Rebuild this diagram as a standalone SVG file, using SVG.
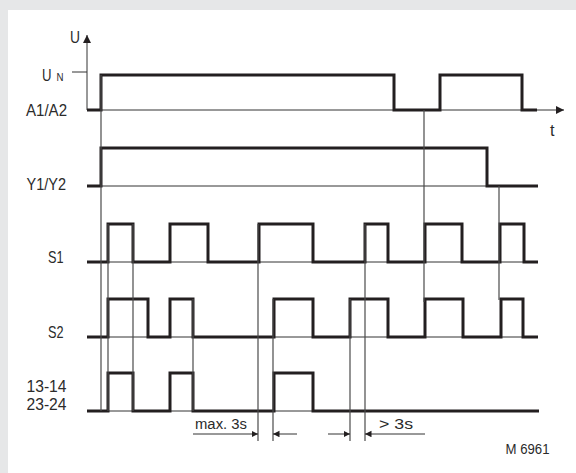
<svg xmlns="http://www.w3.org/2000/svg" width="576" height="473" viewBox="0 0 576 473">
<defs>
<style>
.txt{font-family:"Liberation Sans",Arial,sans-serif;fill:#2b2b2b;}
.lbl{font-size:17px;}
.sm{font-size:14px;}
.thick{fill:none;stroke:#231f20;stroke-width:3;stroke-linejoin:miter;stroke-linecap:butt;}
.thin{fill:none;stroke:#333;stroke-width:1;}
.vl{fill:none;stroke:#4a4a4a;stroke-width:1.2;}
.ah{fill:#231f20;}
</style>
<marker id="arrAxis" markerWidth="9" markerHeight="8" refX="8" refY="4" orient="auto" markerUnits="userSpaceOnUse">
<path d="M0,0 L8,4 L0,8 Z" class="ah"/>
</marker>
<marker id="arrDim" markerWidth="7" markerHeight="7" refX="6.5" refY="3.25" orient="auto" markerUnits="userSpaceOnUse">
<path d="M0,0 L6.5,3.25 L0,6.5 Z" class="ah"/>
</marker>
</defs>
<rect x="0" y="0" width="576" height="473" fill="#e6e7e8"/>
<rect x="8" y="10" width="568" height="463" fill="#ffffff"/>

<g id="axes">
<line x1="87" y1="110" x2="87" y2="35" class="thin" marker-end="url(#arrAxis)"/>
<line x1="87" y1="110" x2="564" y2="110" class="thin" marker-end="url(#arrAxis)"/>
<line x1="72" y1="72" x2="87" y2="72" class="thin"/>
<text class="txt lbl" x="70" y="43" textLength="10" lengthAdjust="spacingAndGlyphs">U</text>
<text class="txt lbl" x="42" y="80.5" textLength="9.5" lengthAdjust="spacingAndGlyphs">U</text>
<text class="txt" style="font-size:10px" x="56.5" y="80.5" textLength="7" lengthAdjust="spacingAndGlyphs">N</text>
<text class="txt lbl" x="550" y="136" textLength="4.5" lengthAdjust="spacingAndGlyphs">t</text>
</g>

<g id="A1A2">
<text class="txt lbl" x="26" y="115.5" textLength="41" lengthAdjust="spacingAndGlyphs">A1/A2</text>
<path class="thick" d="M87,110 H101 V75 H394 V110 H440 V75 H522 V110 H537"/>
</g>

<g id="Y1Y2">
<text class="txt lbl" x="26.5" y="190" textLength="39.5" lengthAdjust="spacingAndGlyphs">Y1/Y2</text>
<line x1="101" y1="186" x2="538" y2="186" class="thin"/>
<path class="thick" d="M87,186 H101 V148 H487 V186 H538"/>
</g>

<g id="S1">
<text class="txt lbl" x="48" y="263" textLength="15.5" lengthAdjust="spacingAndGlyphs">S1</text>
<line x1="87" y1="262" x2="538" y2="262" class="thin"/>
<path class="thick" d="M87,262 H108 V224 H133 V262 H170 V224 H208 V262 H259 V224 H313 V262 H365 V224 H388 V262 H425 V224 H462 V262 H500 V224 H524 V262 H538"/>
</g>

<g id="S2">
<text class="txt lbl" x="48" y="338" textLength="15.5" lengthAdjust="spacingAndGlyphs">S2</text>
<line x1="87" y1="337" x2="538" y2="337" class="thin"/>
<path class="thick" d="M87,337 H108 V299 H148 V337 H170 V299 H193 V337 H274 V299 H313 V337 H350 V299 H388 V337 H425 V299 H463 V337 H501 V299 H523 V337 H538"/>
</g>

<g id="K1314">
<text class="txt lbl" x="26.5" y="392" textLength="40" lengthAdjust="spacingAndGlyphs">13-14</text>
<text class="txt lbl" x="26.5" y="410" textLength="40" lengthAdjust="spacingAndGlyphs">23-24</text>
<line x1="87" y1="411" x2="539" y2="411" class="thin"/>
<path class="thick" d="M87,411 H108 V373 H133 V411 H170 V373 H193 V411 H274 V373 H313 V411 H539"/>
</g>

<g id="connectors">
<line class="vl" x1="101" y1="75" x2="101" y2="411"/>
<line class="vl" x1="108" y1="224" x2="108" y2="411"/>
<line class="vl" x1="133" y1="224" x2="133" y2="411"/>
<line class="vl" x1="193" y1="299" x2="193" y2="411"/>
<line class="vl" x1="258" y1="224" x2="258" y2="441"/>
<line class="vl" x1="273" y1="299" x2="273" y2="441"/>
<line class="vl" x1="350" y1="299" x2="350" y2="441"/>
<line class="vl" x1="365" y1="224" x2="365" y2="441"/>
<line class="vl" x1="424" y1="110" x2="424" y2="302"/>
<line class="vl" x1="499" y1="186" x2="499" y2="300"/>
<line class="thin" x1="193" y1="434" x2="258" y2="434" marker-end="url(#arrDim)"/>
<line class="thin" x1="297" y1="434" x2="273" y2="434" marker-end="url(#arrDim)"/>
<line class="thin" x1="328" y1="434" x2="350" y2="434" marker-end="url(#arrDim)"/>
<line class="thin" x1="425" y1="434" x2="365" y2="434" marker-end="url(#arrDim)"/>
</g>

<g id="dims">
<text class="txt sm" x="195" y="428.5" textLength="52" lengthAdjust="spacingAndGlyphs">max. 3s</text>
<text class="txt sm" x="379" y="428.5" textLength="34" lengthAdjust="spacingAndGlyphs">&gt; 3s</text>
<text class="txt sm" x="505.5" y="454" textLength="44" lengthAdjust="spacingAndGlyphs">M 6961</text>
</g>
</svg>
